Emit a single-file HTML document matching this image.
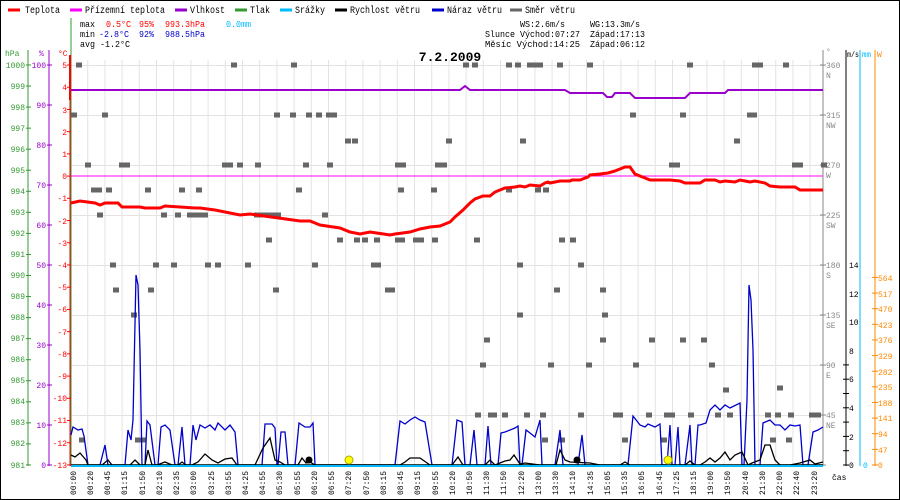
<!DOCTYPE html>
<html><head><meta charset="utf-8"><style>
html,body{margin:0;padding:0;background:#fff}
svg{display:block;font-family:"Liberation Mono",monospace}
</style></head><body>
<svg id="s" width="900" height="500" xmlns="http://www.w3.org/2000/svg">
<rect x="0.5" y="0.5" width="899" height="499" fill="#fff" stroke="#000"/>
<g id="grid" stroke="#e6e2e2" stroke-width="1"></g>
<!-- legend -->
<g font-size="10" fill="#000">
<line x1="8" y1="10" x2="20" y2="10" stroke="#f00" stroke-width="3"/><text x="25" y="13" textLength="35" lengthAdjust="spacingAndGlyphs">Teplota</text>
<line x1="70" y1="10" x2="82" y2="10" stroke="#f0f" stroke-width="3"/><text x="85" y="13" textLength="80" lengthAdjust="spacingAndGlyphs">Přízemní teplota</text>
<line x1="175" y1="10" x2="187" y2="10" stroke="#90c" stroke-width="3"/><text x="190" y="13" textLength="35" lengthAdjust="spacingAndGlyphs">Vlhkost</text>
<line x1="235" y1="10" x2="247" y2="10" stroke="#393" stroke-width="3"/><text x="250" y="13" textLength="20" lengthAdjust="spacingAndGlyphs">Tlak</text>
<line x1="280" y1="10" x2="292" y2="10" stroke="#0bf" stroke-width="3"/><text x="295" y="13" textLength="30" lengthAdjust="spacingAndGlyphs">Srážky</text>
<line x1="335" y1="10" x2="347" y2="10" stroke="#000" stroke-width="3"/><text x="350" y="13" textLength="70" lengthAdjust="spacingAndGlyphs">Rychlost větru</text>
<line x1="432" y1="10" x2="444" y2="10" stroke="#00c" stroke-width="3"/><text x="447" y="13" textLength="55" lengthAdjust="spacingAndGlyphs">Náraz větru</text>
<line x1="510" y1="10" x2="522" y2="10" stroke="#666" stroke-width="3"/><text x="525" y="13" textLength="50" lengthAdjust="spacingAndGlyphs">Směr větru</text>
</g>
<g font-size="9">
<text x="80" y="27" textLength="15" lengthAdjust="spacingAndGlyphs">max</text><text x="106" y="27" fill="#f00" textLength="25" lengthAdjust="spacingAndGlyphs">0.5°C</text><text x="139" y="27" fill="#f00" textLength="15" lengthAdjust="spacingAndGlyphs">95%</text><text x="165" y="27" fill="#f00" textLength="40" lengthAdjust="spacingAndGlyphs">993.3hPa</text><text x="226" y="27" fill="#0bf" textLength="25" lengthAdjust="spacingAndGlyphs">0.0mm</text>
<text x="80" y="37" textLength="15" lengthAdjust="spacingAndGlyphs">min</text><text x="99" y="37" fill="#00c" textLength="30" lengthAdjust="spacingAndGlyphs">-2.8°C</text><text x="139" y="37" fill="#00c" textLength="15" lengthAdjust="spacingAndGlyphs">92%</text><text x="165" y="37" fill="#00c" textLength="40" lengthAdjust="spacingAndGlyphs">988.5hPa</text>
<text x="80" y="47" textLength="50" lengthAdjust="spacingAndGlyphs">avg -1.2°C</text>
<text x="520" y="27" textLength="45" lengthAdjust="spacingAndGlyphs">WS:2.6m/s</text><text x="590" y="27" textLength="50" lengthAdjust="spacingAndGlyphs">WG:13.3m/s</text>
<text x="485" y="37" textLength="95" lengthAdjust="spacingAndGlyphs">Slunce Východ:07:27</text><text x="590" y="37" textLength="55" lengthAdjust="spacingAndGlyphs">Západ:17:13</text>
<text x="485" y="47" textLength="95" lengthAdjust="spacingAndGlyphs">Měsíc  Východ:14:25</text><text x="590" y="47" textLength="55" lengthAdjust="spacingAndGlyphs">Západ:06:12</text>
</g>
<text x="450" y="61" font-size="13" font-weight="bold" text-anchor="middle">7.2.2009</text>
<!-- axes -->
<line x1="71" y1="18" x2="71" y2="466" stroke="#393"/>
<line x1="70" y1="55" x2="70" y2="100" stroke="#f00" stroke-width="2"/>
<line x1="70" y1="100" x2="70" y2="466" stroke="#f00"/>
<line x1="28" y1="50" x2="28" y2="466" stroke="#393"/>
<line x1="49" y1="50" x2="49" y2="466" stroke="#90c"/>
<line x1="823" y1="50" x2="823" y2="466" stroke="#888"/>
<line x1="846" y1="50" x2="846" y2="466" stroke="#000"/>
<line x1="860" y1="50" x2="860" y2="466" stroke="#0bf"/>
<line x1="875" y1="50" x2="875" y2="466" stroke="#f80"/>
<g id="ticks"></g>
<g font-size="8">
<text x="5" y="56" fill="#393">hPa</text><text x="39" y="56" fill="#90c">%</text><text x="58" y="56" fill="#f00">°C</text>
<text x="826" y="54" fill="#888">°</text><text x="847" y="57" textLength="12" lengthAdjust="spacingAndGlyphs">m/s</text><text x="862" y="57" fill="#0bf" textLength="9" lengthAdjust="spacingAndGlyphs">mm</text><text x="877" y="57" fill="#f80">W</text>
<text x="832" y="480">čas</text>
</g>
<g font-size="8" fill="#393" text-anchor="end">
<text x="25" y="68">1000</text><text x="25" y="89">999</text><text x="25" y="110">998</text><text x="25" y="131">997</text><text x="25" y="152">996</text><text x="25" y="173">995</text><text x="25" y="194">994</text><text x="25" y="215">993</text><text x="25" y="236">992</text><text x="25" y="257">991</text><text x="25" y="278">990</text><text x="25" y="299">989</text><text x="25" y="320">988</text><text x="25" y="341">987</text><text x="25" y="362">986</text><text x="25" y="383">985</text><text x="25" y="404">984</text><text x="25" y="425">983</text><text x="25" y="446">982</text><text x="25" y="468">981</text>
</g>
<g font-size="8" fill="#90c" text-anchor="end">
<text x="46" y="68">100</text><text x="46" y="108">90</text><text x="46" y="148">80</text><text x="46" y="188">70</text><text x="46" y="228">60</text><text x="46" y="268">50</text><text x="46" y="308">40</text><text x="46" y="348">30</text><text x="46" y="388">20</text><text x="46" y="428">10</text><text x="46" y="468">0</text>
</g>
<g font-size="8" fill="#f00" text-anchor="end">
<text x="67" y="68">5</text><text x="67" y="90">4</text><text x="67" y="113">3</text><text x="67" y="135">2</text><text x="67" y="157">1</text><text x="67" y="179">0</text><text x="67" y="201">-1</text><text x="67" y="224">-2</text><text x="67" y="246">-3</text><text x="67" y="268">-4</text><text x="67" y="290">-5</text><text x="67" y="312">-6</text><text x="67" y="335">-7</text><text x="67" y="357">-8</text><text x="67" y="379">-9</text><text x="67" y="401">-10</text><text x="67" y="423">-11</text><text x="67" y="446">-12</text><text x="67" y="468">-13</text>
</g>
<g font-size="8" fill="#888">
<text x="826" y="68">360</text><text x="826" y="78">N</text>
<text x="826" y="118">315</text><text x="826" y="128">NW</text>
<text x="826" y="168">270</text><text x="826" y="178">W</text>
<text x="826" y="218">225</text><text x="826" y="228">SW</text>
<text x="826" y="268">180</text><text x="826" y="278">S</text>
<text x="826" y="318">135</text><text x="826" y="328">SE</text>
<text x="826" y="368">90</text><text x="826" y="378">E</text>
<text x="826" y="418">45</text><text x="826" y="428">NE</text>
</g>
<g font-size="8" fill="#000">
<text x="849" y="468">0</text><text x="849" y="440">2</text><text x="849" y="411">4</text><text x="849" y="382">6</text><text x="849" y="354">8</text><text x="849" y="325">10</text><text x="849" y="297">12</text><text x="849" y="268">14</text>
</g>
<text x="863" y="468" font-size="8" fill="#0bf">0</text>
<g font-size="8" fill="#f80">
<text x="878" y="468">0</text><text x="878" y="453">47</text><text x="878" y="437">94</text><text x="878" y="421">141</text><text x="878" y="406">188</text><text x="878" y="390">235</text><text x="878" y="375">282</text><text x="878" y="359">329</text><text x="878" y="343">376</text><text x="878" y="328">423</text><text x="878" y="312">470</text><text x="878" y="297">517</text><text x="878" y="281">564</text>
</g>
<!-- x labels -->
<g font-size="8" fill="#000" id="xl">
<text transform="translate(76,495) rotate(-90)">00:00</text>
<text transform="translate(93,495) rotate(-90)">00:20</text>
<text transform="translate(110,495) rotate(-90)">00:45</text>
<text transform="translate(127,495) rotate(-90)">01:15</text>
<text transform="translate(145,495) rotate(-90)">01:50</text>
<text transform="translate(162,495) rotate(-90)">02:10</text>
<text transform="translate(179,495) rotate(-90)">02:35</text>
<text transform="translate(196,495) rotate(-90)">03:00</text>
<text transform="translate(214,495) rotate(-90)">03:25</text>
<text transform="translate(231,495) rotate(-90)">03:55</text>
<text transform="translate(248,495) rotate(-90)">04:25</text>
<text transform="translate(265,495) rotate(-90)">04:55</text>
<text transform="translate(282,495) rotate(-90)">05:30</text>
<text transform="translate(300,495) rotate(-90)">05:55</text>
<text transform="translate(317,495) rotate(-90)">06:20</text>
<text transform="translate(334,495) rotate(-90)">06:55</text>
<text transform="translate(351,495) rotate(-90)">07:20</text>
<text transform="translate(369,495) rotate(-90)">07:50</text>
<text transform="translate(386,495) rotate(-90)">08:15</text>
<text transform="translate(403,495) rotate(-90)">08:45</text>
<text transform="translate(420,495) rotate(-90)">09:15</text>
<text transform="translate(438,495) rotate(-90)">09:55</text>
<text transform="translate(455,495) rotate(-90)">10:20</text>
<text transform="translate(472,495) rotate(-90)">10:50</text>
<text transform="translate(489,495) rotate(-90)">11:30</text>
<text transform="translate(506,495) rotate(-90)">11:50</text>
<text transform="translate(524,495) rotate(-90)">12:20</text>
<text transform="translate(541,495) rotate(-90)">13:00</text>
<text transform="translate(558,495) rotate(-90)">13:30</text>
<text transform="translate(575,495) rotate(-90)">14:10</text>
<text transform="translate(593,495) rotate(-90)">14:35</text>
<text transform="translate(610,495) rotate(-90)">15:05</text>
<text transform="translate(627,495) rotate(-90)">15:35</text>
<text transform="translate(644,495) rotate(-90)">16:05</text>
<text transform="translate(662,495) rotate(-90)">16:45</text>
<text transform="translate(679,495) rotate(-90)">17:25</text>
<text transform="translate(696,495) rotate(-90)">18:15</text>
<text transform="translate(713,495) rotate(-90)">19:00</text>
<text transform="translate(730,495) rotate(-90)">19:50</text>
<text transform="translate(748,495) rotate(-90)">20:40</text>
<text transform="translate(765,495) rotate(-90)">21:30</text>
<text transform="translate(782,495) rotate(-90)">22:00</text>
<text transform="translate(799,495) rotate(-90)">22:40</text>
<text transform="translate(817,495) rotate(-90)">23:20</text>
</g>
<!-- direction squares -->
<g id="sq" fill="#666"></g>
<!-- series -->
<line x1="71" y1="176" x2="823" y2="176" stroke="#f0f" stroke-width="1"/>
<polyline fill="none" stroke="#90c" stroke-width="2" points="71,90 460,90 465,86 470,90 565,90 570,93 603,93 607,97 612,97 615,93 630,93 635,98 685,98 690,93 725,93 728,90 823,90"/>
<polyline fill="none" stroke="#00c" stroke-width="1.3" points="71,435 73,427 78,430 82,429 84,436 88,465 100,465 105,445 108,465 125,465 128,430 131,440 133,420 136,275 138,285 140,350 142,465 145,465 147,421 150,425 155,465 158,465 161,427 165,425 170,430 175,465 178,465 182,427 185,465 190,465 193,425 196,440 200,425 205,428 210,425 215,430 218,423 225,430 230,425 235,432 238,465 262,465 265,424 272,424 275,428 277,465 278,465 281,432 285,432 288,465 295,465 299,423 305,427 310,427 313,423 315,465 395,465 400,421 405,424 410,420 415,417 420,420 425,422 432,465 452,465 457,420 462,422 465,465 470,465 474,430 477,465 485,465 488,426 491,465 498,465 501,433 505,432 515,428 518,426 520,465 522,465 526,430 530,433 535,437 540,420 542,465 555,465 560,430 563,465 578,465 582,435 585,465 628,465 633,416 640,425 645,427 648,424 655,427 660,424 662,465 667,465 670,425 672,465 675,465 678,427 680,465 685,465 690,425 692,465 695,465 698,425 700,425 706,423 710,410 715,405 720,410 725,405 730,408 740,403 742,465 744,465 747,400 749,285 751,300 753,350 755,465 760,465 763,423 770,420 775,425 780,425 785,430 790,425 795,426 800,425 803,465 808,465 813,432 818,430 823,427"/>
<polyline fill="none" stroke="#000" stroke-width="1.3" points="71,455 75,457 80,453 86,460 88,465 102,465 108,460 112,465 130,465 135,460 140,465 145,465 148,450 152,465 157,465 165,462 172,465 178,465 182,462 186,465 192,465 198,462 205,454 212,460 218,463 225,459 232,458 237,465 255,465 263,448 270,438 275,460 280,462 285,465 298,465 302,458 306,463 310,462 315,465 400,465 405,462 410,458 420,458 430,465 452,465 458,457 463,465 485,465 490,460 495,465 500,463 505,461 510,460 514,455 520,464 525,463 540,465 556,465 560,450 565,460 570,462 590,463 600,465 620,465 625,462 630,465 685,465 690,461 695,465 700,465 705,462 710,458 715,462 720,458 725,452 730,460 735,455 742,452 748,465 752,463 760,460 765,445 770,445 775,460 780,465 790,465 800,463 810,460 815,464 823,462"/>
<line x1="71" y1="465" x2="823" y2="465" stroke="#000" stroke-width="1.5"/>
<line x1="71" y1="466" x2="823" y2="466" stroke="#0bf" stroke-width="2"/>
<polyline fill="none" stroke="#f00" stroke-width="3" points="71,203 80,201 95,203 100,205 105,203 118,203 122,207 140,207 145,208 160,208 165,206 195,208 200,208 215,210 240,215 250,214 300,221 310,221 320,225 340,228 350,232 360,234 370,232 390,235 395,234 410,232 420,229 430,227 440,226 450,222 455,217 463,210 470,203 475,199 483,196 490,196 495,192 500,190 505,188 515,187 520,186 525,187 530,185 540,186 545,183 548,182 550,183 560,181 570,181 572,180 580,180 588,177 590,175 600,174 608,173 615,171 625,167 630,167 635,174 640,176 650,180 670,180 680,181 685,183 700,183 705,180 715,180 720,182 725,181 735,182 740,180 745,181 750,182 755,181 765,183 770,186 780,187 795,187 800,190 823,190"/>
<circle cx="349" cy="460" r="4" fill="#ff0" stroke="#aa0"/>
<circle cx="668" cy="460" r="4" fill="#ff0" stroke="#aa0"/>
<circle cx="309" cy="460" r="3.5" fill="#000"/>
<circle cx="577" cy="460" r="3.5" fill="#000"/>
</svg>
<script>
var ns="http://www.w3.org/2000/svg";
function el(p,n,a){var e=document.createElementNS(ns,n);for(var k in a)e.setAttribute(k,a[k]);document.getElementById(p).appendChild(e);}
for(var i=1;i<44;i++){var x=70.5+i*17.2;el("grid","line",{x1:x,y1:60,x2:x,y2:465});}
for(var y=65;y<465;y+=50){el("grid","line",{x1:71,y1:y+.5,x2:823,y2:y+.5});}
for(var k=0;k<=19;k++){var y=65+k*21.05;el("ticks","line",{x1:26,y1:y,x2:31,y2:y,stroke:"#393"});}
for(var k=0;k<=10;k++){var y=65+k*40;el("ticks","line",{x1:47,y1:y,x2:52,y2:y,stroke:"#90c"});}
for(var k=0;k<=18;k++){var y=65+k*22.22;el("ticks","line",{x1:67,y1:y,x2:71,y2:y,stroke:"#f00"});}
for(var k=0;k<=7;k++){var y=465-k*14.3;el("ticks","line",{x1:843,y1:y,x2:849,y2:y,stroke:"#000"});}
for(var k=0;k<=12;k++){var y=465-k*15.63;el("ticks","line",{x1:872,y1:y,x2:878,y2:y,stroke:"#f80"});}
for(var k=0;k<=8;k++){var y=65+k*50;el("ticks","line",{x1:820,y1:y,x2:826,y2:y,stroke:"#888"});}
var sq=[[79,65],[234,65],[294,65],[466,65],[475,65],[509,65],[518,65],[530,65],[535,65],[540,65],[560,65],[590,65],[690,65],[755,65],[760,65],[786,65],[74,115],[105,115],[277,115],[293,115],[309,115],[319,115],[329,115],[334,115],[633,115],[683,115],[750,115],[754,115],[348,141],[355,141],[449,141],[523,141],[737,141],[824,165],[88,165],[122,165],[127,165],[225,165],[230,165],[240,165],[258,165],[306,165],[330,165],[398,165],[403,165],[438,165],[444,165],[672,165],[677,165],[676,165],[795,165],[800,165],[94,190],[99,190],[109,190],[148,190],[182,190],[199,190],[299,190],[401,190],[434,190],[509,190],[538,190],[546,190],[100,215],[164,215],[178,215],[190,215],[195,215],[200,215],[205,215],[257,215],[262,215],[267,215],[270,215],[274,215],[278,215],[325,215],[269,240],[340,240],[357,240],[365,240],[377,240],[398,240],[402,240],[416,240],[421,240],[435,240],[477,240],[562,240],[573,240],[113,265],[156,265],[174,265],[208,265],[218,265],[248,265],[315,265],[374,265],[378,265],[520,265],[581,265],[116,290],[151,290],[388,290],[392,290],[276,290],[557,290],[603,290],[134,315],[520,315],[605,315],[652,340],[487,340],[683,340],[603,340],[704,340],[483,365],[551,365],[589,365],[636,365],[712,365],[726,390],[780,388],[478,415],[491,415],[494,415],[505,415],[527,415],[543,415],[581,415],[616,415],[620,415],[649,415],[667,415],[672,415],[691,415],[718,415],[730,415],[768,415],[778,415],[791,415],[812,415],[818,415],[82,440],[138,440],[143,440],[545,440],[562,440],[625,440],[664,440],[773,440],[789,440]];
sq.forEach(function(p){el("sq","rect",{x:p[0]-3,y:p[1]-2.5,width:6,height:5});});
</script>
</body></html>
